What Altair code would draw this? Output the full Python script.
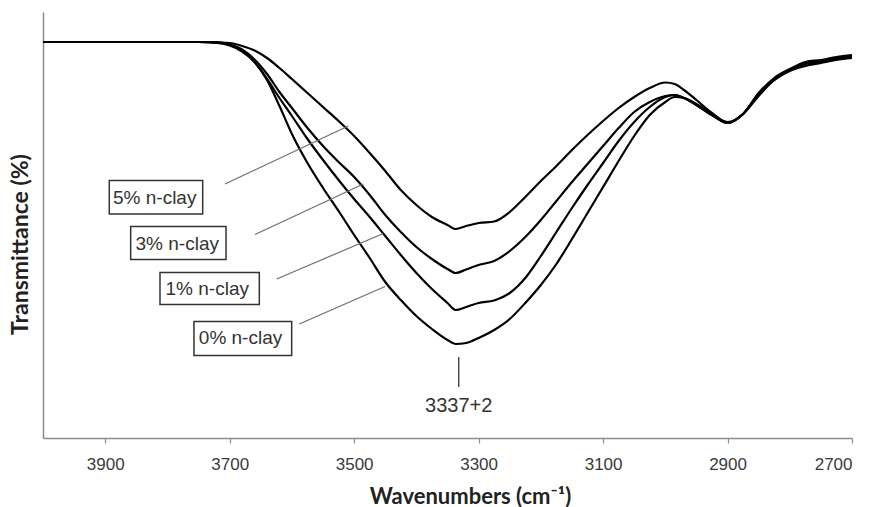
import altair as alt
import pandas as pd

# Wavenumber grid (cm-1) and transmittance readings (%) for each sample
wavenumbers = [4000, 3750, 3720, 3700, 3680, 3660, 3640, 3620, 3600, 3575,
               3550, 3525, 3500, 3475, 3450, 3425, 3400, 3375, 3350, 3337,
               3320, 3300, 3275, 3250, 3225, 3200, 3175, 3150, 3125, 3100,
               3075, 3050, 3025, 3000, 2985, 2970, 2950, 2925, 2900, 2875,
               2850, 2825, 2800, 2775, 2750, 2725, 2700]

clay0 = [78.6, 78.6, 78.4, 77.9, 76.7, 74.6, 71.0, 65.8, 60.2, 54.4,
         49.4, 44.8, 40.0, 35.4, 30.6, 27.0, 23.8, 21.2, 19.0, 18.2,
         18.4, 19.4, 21.0, 23.2, 26.4, 30.0, 34.2, 39.2, 44.4, 49.6,
         54.8, 59.8, 64.0, 66.6, 67.6, 67.4, 66.2, 64.2, 62.4, 64.2,
         67.8, 71.0, 72.8, 73.8, 74.4, 75.0, 75.4]

clay1 = [78.6, 78.6, 78.5, 78.0, 76.9, 74.6, 71.2, 67.4, 63.8, 59.2,
         55.0, 51.0, 47.2, 43.6, 39.8, 36.0, 32.4, 29.2, 26.4, 25.0,
         25.6, 26.4, 26.9, 28.4, 31.4, 35.8, 40.6, 45.4, 50.0, 54.4,
         58.8, 62.6, 65.6, 67.6, 68.0, 67.4, 66.0, 64.0, 62.4, 64.2,
         68.2, 71.0, 73.0, 74.2, 74.6, 75.2, 75.6]

clay3 = [78.6, 78.6, 78.6, 78.1, 77.1, 75.1, 72.2, 68.6, 65.4, 61.4,
         57.8, 54.6, 51.6, 48.0, 44.0, 40.6, 37.6, 35.2, 33.2, 32.4,
         33.1, 34.0, 34.8, 36.8, 39.6, 43.0, 46.8, 50.6, 54.2, 57.8,
         61.4, 64.6, 66.6, 67.8, 68.0, 67.4, 66.0, 64.0, 62.4, 64.2,
         68.2, 71.0, 73.0, 74.4, 74.8, 75.4, 75.8]

clay5 = [78.6, 78.6, 78.5, 78.4, 77.8, 76.9, 75.4, 73.4, 71.2, 68.4,
         65.6, 62.8, 59.8, 56.4, 52.8, 49.0, 46.0, 43.6, 42.0, 41.2,
         41.8, 42.4, 42.7, 44.6, 47.6, 50.8, 53.8, 57.0, 60.0, 62.8,
         65.4, 67.6, 69.4, 70.5, 70.2, 69.0, 67.0, 64.4, 62.6, 64.2,
         68.4, 71.4, 73.2, 74.6, 75.0, 75.6, 76.0]

series_names = ["0% n-clay", "1% n-clay", "3% n-clay", "5% n-clay"]
series_values = [clay0, clay1, clay3, clay5]

# Annotation boxes (label, wavenumber left/right, transmittance top/bottom, text anchor)
label_text = ["5% n-clay", "3% n-clay", "1% n-clay", "0% n-clay"]
box_w1 = [3893.5, 3859.1, 3812.0, 3757.4]
box_w2 = [3743.4, 3705.9, 3652.4, 3600.4]
box_t1 = [50.9, 41.7, 32.5, 22.7]
box_t2 = [44.2, 35.1, 26.1, 15.9]
text_w = [3820.5, 3784.3, 3736.1, 3682.6]
text_t = [46.2, 37.1, 28.0, 18.2]
# Leader lines from box to curve
lead_w1 = [3707.5, 3659.3, 3624.5, 3588.1]
lead_t1 = [50.2, 40.1, 31.2, 22.2]
lead_w2 = [3509.4, 3485.3, 3453.2, 3450.4]
lead_t2 = [61.8, 50.2, 40.3, 29.7]

# Peak marker
peak_label = ["3337+2"]
peak_w = [3332]
peak_t1 = [15.6]
peak_t2 = [9.6]
peak_text_t = [4.6]

x_ticks = [3900, 3700, 3500, 3300, 3100, 2900, 2700]

rows = []
for name, vals in zip(series_names, series_values):
    for w, t in zip(wavenumbers, vals):
        rows.append({"w": w, "t": t, "s": name})
df = pd.DataFrame(rows)

boxes = pd.DataFrame({"label": label_text, "w1": box_w1, "w2": box_w2,
                      "t1": box_t1, "t2": box_t2, "tw": text_w, "tt": text_t,
                      "lw1": lead_w1, "lt1": lead_t1, "lw2": lead_w2, "lt2": lead_t2})
peak = pd.DataFrame({"label": peak_label, "w": peak_w, "t1": peak_t1,
                     "t2": peak_t2, "tt": peak_text_t})

xs = alt.Scale(domain=[4000, 2700], nice=False, zero=False)
ys = alt.Scale(domain=[-0.6, 84.6], nice=False, zero=False)

x_axis = alt.Axis(values=x_ticks, grid=False, format="d",
                  domainColor="#8c8c8c", domainWidth=1.5,
                  tickColor="#8c8c8c", tickSize=5, tickWidth=1.2,
                  labelFont="Liberation Sans", labelFontSize=17, labelColor="#3a3a3a",
                  labelPadding=13,
                  title="Wavenumbers (cm⁻¹)", titleFont="Lato", titleFontSize=22,
                  titleFontWeight="bold", titleColor="#222222",
                  titleX=427, titleY=65, titleAlign="center", titleBaseline="alphabetic")
y_axis = alt.Axis(grid=False, ticks=False, labels=False,
                  domainColor="#8c8c8c", domainWidth=1.5,
                  title="Transmittance (%)", titleFont="Lato", titleFontSize=23,
                  titleFontWeight="bold", titleColor="#222222",
                  titleAngle=270, titleX=-16, titleY=232,
                  titleAlign="center", titleBaseline="alphabetic")

lines = alt.Chart(df).mark_line(color="black", strokeWidth=2.2, interpolate="monotone").encode(
    x=alt.X("w:Q", scale=xs, axis=x_axis),
    y=alt.Y("t:Q", scale=ys, axis=y_axis),
    detail="s:N",
)

leaders = alt.Chart(boxes).mark_rule(color="#6e6e6e", strokeWidth=1.2).encode(
    x=alt.X("lw1:Q", scale=xs, axis=x_axis), x2="lw2:Q",
    y=alt.Y("lt1:Q", scale=ys, axis=y_axis), y2="lt2:Q",
)

rects = alt.Chart(boxes).mark_rect(fill="white", stroke="#333333", strokeWidth=1.5).encode(
    x=alt.X("w1:Q", scale=xs, axis=x_axis), x2="w2:Q",
    y=alt.Y("t1:Q", scale=ys, axis=y_axis), y2="t2:Q",
)

texts = alt.Chart(boxes).mark_text(font="Liberation Sans", fontSize=19, color="#333333",
                                   align="center", baseline="alphabetic").encode(
    x=alt.X("tw:Q", scale=xs, axis=x_axis),
    y=alt.Y("tt:Q", scale=ys, axis=y_axis),
    text="label:N",
)

peak_rule = alt.Chart(peak).mark_rule(color="#444444", strokeWidth=1.4).encode(
    x=alt.X("w:Q", scale=xs, axis=x_axis),
    y=alt.Y("t1:Q", scale=ys, axis=y_axis), y2="t2:Q",
)

peak_text = alt.Chart(peak).mark_text(font="Liberation Sans", fontSize=20, color="#333333",
                                      align="center", baseline="alphabetic").encode(
    x=alt.X("w:Q", scale=xs, axis=x_axis),
    y=alt.Y("tt:Q", scale=ys, axis=y_axis),
    text="label:N",
)

chart = alt.layer(lines, leaders, rects, texts, peak_rule, peak_text).properties(
    width=809, height=426,
    autosize=alt.AutoSizeParams(type="none"),
    padding={"left": 43, "top": 12, "right": 25, "bottom": 69},
    background="white",
).configure_view(stroke=None)

chart.save("out.html", embed_options={"renderer": "svg", "actions": False})
